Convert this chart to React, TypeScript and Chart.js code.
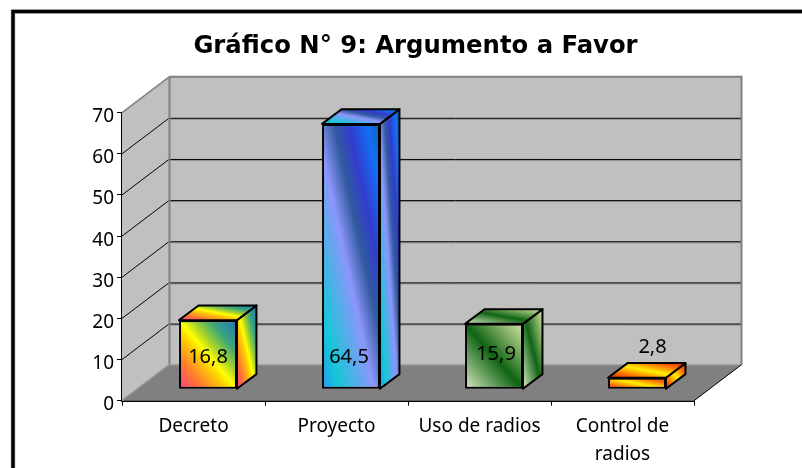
import React, { useEffect, useRef } from "react";
import { Chart, registerables } from "chart.js";

Chart.register(...registerables);

const categories: (string | string[])[] = ["Decreto", "Proyecto", "Uso de radios", ["Control de", "radios"]];
const values = [16.8, 64.5, 15.9, 2.8];
const titleText = "Gráfico N° 9: Argumento a Favor";
const yMax = 70;
const yStep = 10;

type Stop = [number, string];
const rainbow: Stop[] = [
  [0, "#ff3c82"], [0.22, "#ff7a30"], [0.42, "#ffd200"], [0.5, "#ffff00"],
  [0.62, "#a0d030"], [0.76, "#3ca878"], [1, "#1e6ebe"],
];
const ocean: Stop[] = [
  [0, "#2896f5"], [0.15, "#14c8d7"], [0.45, "#8c96fa"], [0.6, "#325aa0"],
  [0.73, "#323ccd"], [0.88, "#146ef5"], [1, "#0a64aa"],
];
const moss: Stop[] = [
  [0, "#dcebc4"], [0.5, "#0f6414"], [0.78, "#82af64"], [1, "#d7e6af"],
];
const fire: Stop[] = [
  [0, "#e61e00"], [0.25, "#ff7800"], [0.5, "#fff000"], [0.75, "#ff7800"], [1, "#e61e00"],
];
const fills = [rainbow, ocean, moss, fire];

// Value label nudges relative to the centre of each bar's front face
const labelNudge: [number, number][] = [[0, 2.7], [-2, 2], [2, -1.9], [15.5, -36]];

const DEPTH = { dx: 47.5, dy: 36 };
const BAR_SHIFT = { dx: 14.5, dy: 11.4 };
const BAR_DEPTH = { dx: 19.5, dy: 14.7 };
const BAR_PERCENT = 0.405;
const Y_LABEL_DROP = 4;

function diagGradient(ctx: CanvasRenderingContext2D, l: number, t: number, r: number, b: number, stops: Stop[]) {
  const w = Math.max(r - l, 1), h = Math.max(b - t, 1);
  const cx = (l + r) / 2, cy = (t + b) / 2;
  const len = Math.hypot(w, h);
  const nx = h / len, ny = -w / len;
  const k = (w * h) / len;
  const g = ctx.createLinearGradient(cx - nx * k, cy - ny * k, cx + nx * k, cy + ny * k);
  stops.forEach(([p, c]) => g.addColorStop(p, c));
  return g;
}

function face(ctx: CanvasRenderingContext2D, pts: number[][], fill: string | CanvasGradient | null, stroke: string | null, lw = 1) {
  ctx.beginPath();
  pts.forEach(([x, y], i) => (i ? ctx.lineTo(x, y) : ctx.moveTo(x, y)));
  ctx.closePath();
  if (fill) { ctx.fillStyle = fill; ctx.fill(); }
  if (stroke) { ctx.strokeStyle = stroke; ctx.lineWidth = lw; ctx.lineJoin = "round"; ctx.stroke(); }
}

function line(ctx: CanvasRenderingContext2D, x1: number, y1: number, x2: number, y2: number, c: string, lw: number) {
  ctx.beginPath();
  ctx.moveTo(x1, y1);
  ctx.lineTo(x2, y2);
  ctx.strokeStyle = c;
  ctx.lineWidth = lw;
  ctx.stroke();
}

const frame3d = {
  id: "frame3d",
  afterLayout(chart: any) {
    // the title sits centred over the plot including its depth
    chart.titleBlock.left = 29;
    chart.titleBlock.right = 802;
  },
  beforeDraw(chart: any) {
    const { ctx, scales } = chart;
    // the y tick labels sit a little below their ticks
    scales.y.getLabelItems(chart.chartArea).forEach((item: any) => {
      if (!item.__dropped) {
        item.options.translation[1] += Y_LABEL_DROP;
        item.__dropped = true;
      }
    });
    ctx.save();
    ctx.fillStyle = "#ffffff";
    ctx.fillRect(0, 0, chart.width, chart.height);
    ctx.strokeStyle = "rgba(0,0,0,0.45)";
    ctx.lineWidth = 4.4;
    ctx.strokeRect(13, 11.5, 1000, 800);
    ctx.strokeStyle = "#000";
    ctx.lineWidth = 3.2;
    ctx.strokeRect(13, 11.5, 1000, 800);
    ctx.restore();
  },
  beforeDatasetsDraw(chart: any) {
    const { ctx, chartArea: a, scales } = chart;
    const y = scales.y;
    const { dx, dy } = DEPTH;
    const y0 = y.getPixelForValue(0);
    const yT = y.getPixelForValue(yMax);
    ctx.save();
    // walls and floor
    face(ctx, [[a.left, y0], [a.left + dx, y0 - dy], [a.left + dx, yT - dy], [a.left, yT]], "#c0c0c0", null);
    face(ctx, [[a.left + dx, y0 - dy], [a.right + dx, y0 - dy], [a.right + dx, yT - dy], [a.left + dx, yT - dy]], "#c0c0c0", null);
    face(ctx, [[a.left, y0], [a.left + dx, y0 - dy], [a.right + dx, y0 - dy], [a.right, y0]], "#808080", null);
    // gridlines from the scale's ticks
    y.ticks.forEach((t: any) => {
      if (t.value === 0 || t.value === yMax) return;
      const p = y.getPixelForValue(t.value);
      line(ctx, a.left, p, a.left + dx, p - dy, "#000", 1);
      line(ctx, a.left + dx, p - dy + 1.5, a.right + dx, p - dy + 1.5, "#909090", 1);
      line(ctx, a.left + dx, p - dy + 0.5, a.right + dx, p - dy + 0.5, "#000", 1);
    });
    // wall edges
    line(ctx, a.left, yT, a.left + dx, yT - dy, "#808080", 1.5);
    line(ctx, a.left + dx, yT - dy, a.right + dx, yT - dy, "#808080", 2);
    line(ctx, a.left + dx, yT - dy, a.left + dx, y0 - dy, "#808080", 2);
    line(ctx, a.right + dx, yT - dy - 1, a.right + dx, y0 - dy, "#808080", 2);
    line(ctx, a.left, y0, a.left + dx, y0 - dy, "#909090", 1.5);
    line(ctx, a.left + dx, y0 - dy, a.right + dx, y0 - dy, "#a0a0a0", 1.5);
    line(ctx, a.right, y0, a.right + dx, y0 - dy, "#000", 1);

    // every bar's depth is derived from its own element
    ctx.translate(BAR_SHIFT.dx, -BAR_SHIFT.dy);
    const meta = chart.getDatasetMeta(0);
    const { dx: bx, dy: by } = BAR_DEPTH;
    meta.data.forEach((bar: any, i: number) => {
      const l = bar.x - bar.width / 2, r = bar.x + bar.width / 2;
      const t = bar.y, b = bar.base;
      const side = [[r, t], [r + bx, t - by], [r + bx, b - by], [r, b]];
      const top = [[l, t], [l + bx, t - by], [r + bx, t - by], [r, t]];
      face(ctx, side, diagGradient(ctx, r, t - by, r + bx, b, fills[i]), "#000", 2);
      face(ctx, top, diagGradient(ctx, l, t - by, r + bx, t, fills[i]), "#000", 2);
    });
  },
  afterDatasetsDraw(chart: any) {
    const { ctx } = chart;
    ctx.restore();
    ctx.save();
    ctx.translate(BAR_SHIFT.dx, -BAR_SHIFT.dy);
    ctx.fillStyle = "#000";
    ctx.font = '20px "Noto Sans"';
    ctx.textAlign = "center";
    ctx.textBaseline = "middle";
    const meta = chart.getDatasetMeta(0);
    meta.data.forEach((bar: any, i: number) => {
      const text = values[i].toFixed(1).replace(".", ",");
      let ly = (bar.y + bar.base) / 2;
      if (values[i] > 40) ly = bar.base - 34;
      ctx.fillText(text, bar.x + labelNudge[i][0], ly + labelNudge[i][1]);
    });
    ctx.restore();
  },
};

export default function App() {
  const ref = useRef<HTMLCanvasElement>(null);
  useEffect(() => {
    const ctx = ref.current!.getContext("2d")!;
    const chart = new Chart(ctx, {
      type: "bar",
      data: {
        labels: categories as any,
        datasets: [
          {
            data: values,
            clip: false as any,
            categoryPercentage: 1,
            barPercentage: BAR_PERCENT,
            borderColor: "#000",
            borderWidth: 2,
            borderSkipped: false,
            backgroundColor: (c: any) => {
              const i = c.dataIndex;
              const yS = c.chart.scales.y, xS = c.chart.scales.x;
              if (!yS || !xS || i === undefined) return "#888";
              const cx = xS.getPixelForValue(i);
              const w = (xS.getPixelForValue(1) - xS.getPixelForValue(0)) * BAR_PERCENT;
              const t = yS.getPixelForValue(values[i]);
              const b = yS.getPixelForValue(0);
              if (![cx, w, t, b].every(Number.isFinite)) return "#888";
              return diagGradient(c.chart.ctx, cx - w / 2, t, cx + w / 2, b, fills[i]);
            },
          },
        ],
      },
      options: {
        responsive: false,
        animation: false,
        layout: { padding: { left: 0, right: 108, top: 0, bottom: 0 } },
        plugins: {
          legend: { display: false },
          tooltip: { enabled: false },
          title: {
            display: true,
            text: titleText,
            color: "#000",
            font: { family: '"DejaVu Sans"', size: 24.3, weight: "bold", lineHeight: 1.2 },
            padding: { top: 32, bottom: 51.5 },
          },
        },
        scales: {
          x: {
            afterFit: (s: any) => { s.height = 67.3; },
            grid: { display: true, drawOnChartArea: false, color: "#000", tickLength: 5, offset: true },
            border: { display: true, color: "#000", width: 2 },
            ticks: {
              color: "#000",
              maxRotation: 0,
              autoSkip: false,
              padding: 7,
              font: { family: '"Noto Sans"', size: 19, lineHeight: 1.47 },
            },
          },
          y: {
            min: 0,
            max: yMax,
            afterFit: (s: any) => { s.width = 122; },
            grid: { display: true, drawOnChartArea: false, color: "#000", tickLength: 5 },
            border: { display: true, color: "#000", width: 1.5 },
            ticks: {
              stepSize: yStep,
              color: "#000",
              padding: 3,
              font: { family: '"Noto Sans"', size: 19 },
            },
          },
        },
      },
      plugins: [frame3d as any],
    });
    return () => chart.destroy();
  }, []);
  return (
    <div style={{ position: "absolute", left: 0, top: 0, width: 802, height: 468, overflow: "hidden" }}>
      <canvas ref={ref} width={802} height={468} style={{ display: "block" }} />
    </div>
  );
}
